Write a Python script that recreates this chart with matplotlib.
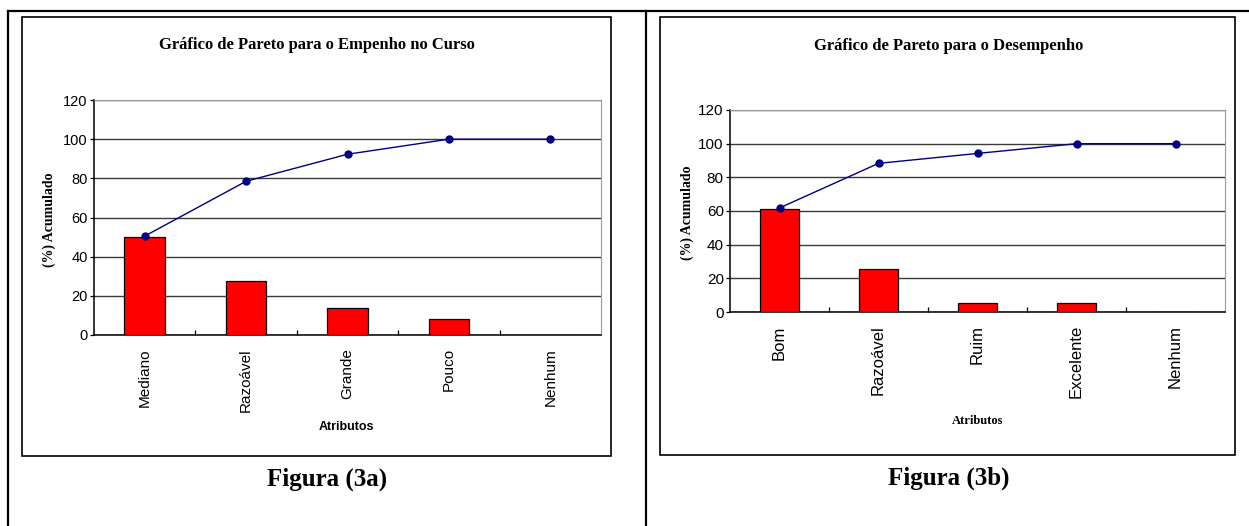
import matplotlib
matplotlib.use('Agg')
import matplotlib.pyplot as plt
from matplotlib.patches import Rectangle
from matplotlib.lines import Line2D

# Figura (3a) - empenho no curso
cats_a = ['Mediano', 'Razoável', 'Grande', 'Pouco', 'Nenhum']
pct_a = [50.2, 27.8, 13.8, 8.2, 0]
cum_a = [50.5, 78.5, 92.3, 100, 100]

# Figura (3b) - desempenho
cats_b = ['Bom', 'Razoável', 'Ruim', 'Excelente', 'Nenhum']
pct_b = [61.3, 25.5, 5.5, 5.5, 0]
cum_b = [61.8, 88.3, 94.2, 100, 100]

yticks = [0, 20, 40, 60, 80, 100, 120]

W, H = 1249, 526
SANS = ['Liberation Sans', 'DejaVu Sans']
SERIF = ['Liberation Serif', 'DejaVu Serif']


def fx(x):
    return x / W


def fy(y):
    return 1 - y / H


def pareto(fig, box, cats, pct, cum, title, title_xy, ylab_xy, xlab_xy,
           xlab_family, xtick_size, ytick_size, xpad):
    left, top, right, bottom = box
    ax = fig.add_axes([fx(left), fy(bottom), (right - left) / W, (bottom - top) / H])
    x = list(range(len(cats)))
    ax.bar(x, pct, width=0.4, color='#ff0000', edgecolor='black', linewidth=0.9, zorder=3)
    ax.plot(x, cum, color='#000080', linewidth=1.0, marker='o', markersize=5,
            markerfacecolor='#000080', markeredgecolor='#000080', zorder=4)

    ax.set_xlim(-0.5, len(cats) - 0.5)
    ax.set_ylim(0, 120)
    ax.set_yticks(yticks)
    ax.set_xticks(x)
    ax.set_xticklabels(cats, rotation=90, fontsize=xtick_size, family=SANS)
    ax.set_xticks([i + 0.5 for i in range(len(cats) - 1)], minor=True)
    for lab in ax.get_yticklabels():
        lab.set_family(SANS)
        lab.set_fontsize(ytick_size)
    ax.tick_params(axis='x', which='major', length=0, pad=xpad)
    ax.tick_params(axis='x', which='minor', direction='in', length=3.5, width=0.9)
    ax.tick_params(axis='y', direction='out', length=3, width=0.9, pad=1.5)

    ax.yaxis.grid(True, color='#3a3a3a', linewidth=1.0, zorder=0)
    ax.set_axisbelow(True)
    ax.spines['top'].set_color('#999999')
    ax.spines['right'].set_color('#999999')
    ax.spines['left'].set_linewidth(1.1)
    ax.spines['bottom'].set_linewidth(1.1)

    fig.text(fx(title_xy[0]), fy(title_xy[1]), title, ha='center', va='center',
             fontsize=12, fontweight='bold', family=SERIF)
    fig.text(fx(ylab_xy[0]), fy(ylab_xy[1]), '(%) Acumulado', rotation=90,
             ha='center', va='center', fontsize=10, fontweight='bold', family=SERIF)
    fig.text(fx(xlab_xy[0]), fy(xlab_xy[1]), 'Atributos', ha='center', va='center',
             fontsize=9, fontweight='bold', family=xlab_family)
    return ax


def main():
    fig = plt.figure(figsize=(W / 100, H / 100), dpi=100)
    fig.patch.set_facecolor('white')

    # table lines
    for (x0, y0, x1, y1) in [(8, 11, W, 11), (8, 11, 8, H), (646, 11, 646, H)]:
        fig.add_artist(Line2D([fx(x0), fx(x1)], [fy(y0), fy(y1)], color='black',
                              linewidth=1.6, transform=fig.transFigure))

    # chart frames
    for (l, t, r, b) in [(22, 17, 611, 456), (660, 17, 1235, 455)]:
        fig.add_artist(Rectangle((fx(l), fy(b)), (r - l) / W, (b - t) / H,
                                 fill=False, edgecolor='black', linewidth=1.2,
                                 transform=fig.transFigure))

    pareto(fig, (94, 100, 601, 335), cats_a, pct_a, cum_a,
           'Gráfico de Pareto para o Empenho no Curso',
           (317, 45), (49, 220), (346, 427), SANS, 11, 10.5, 9.5)
    pareto(fig, (730, 110, 1225, 312), cats_b, pct_b, cum_b,
           'Gráfico de Pareto para o Desempenho',
           (949, 46), (687, 213), (978, 421), SERIF, 12, 11, 9.5)

    fig.text(fx(327), fy(479), 'Figura (3a)', ha='center', va='center',
             fontsize=18, fontweight='bold', family=SERIF)
    fig.text(fx(949), fy(478), 'Figura (3b)', ha='center', va='center',
             fontsize=18, fontweight='bold', family=SERIF)

    fig.savefig('out.png', dpi=100)


if __name__ == '__main__':
    main()
